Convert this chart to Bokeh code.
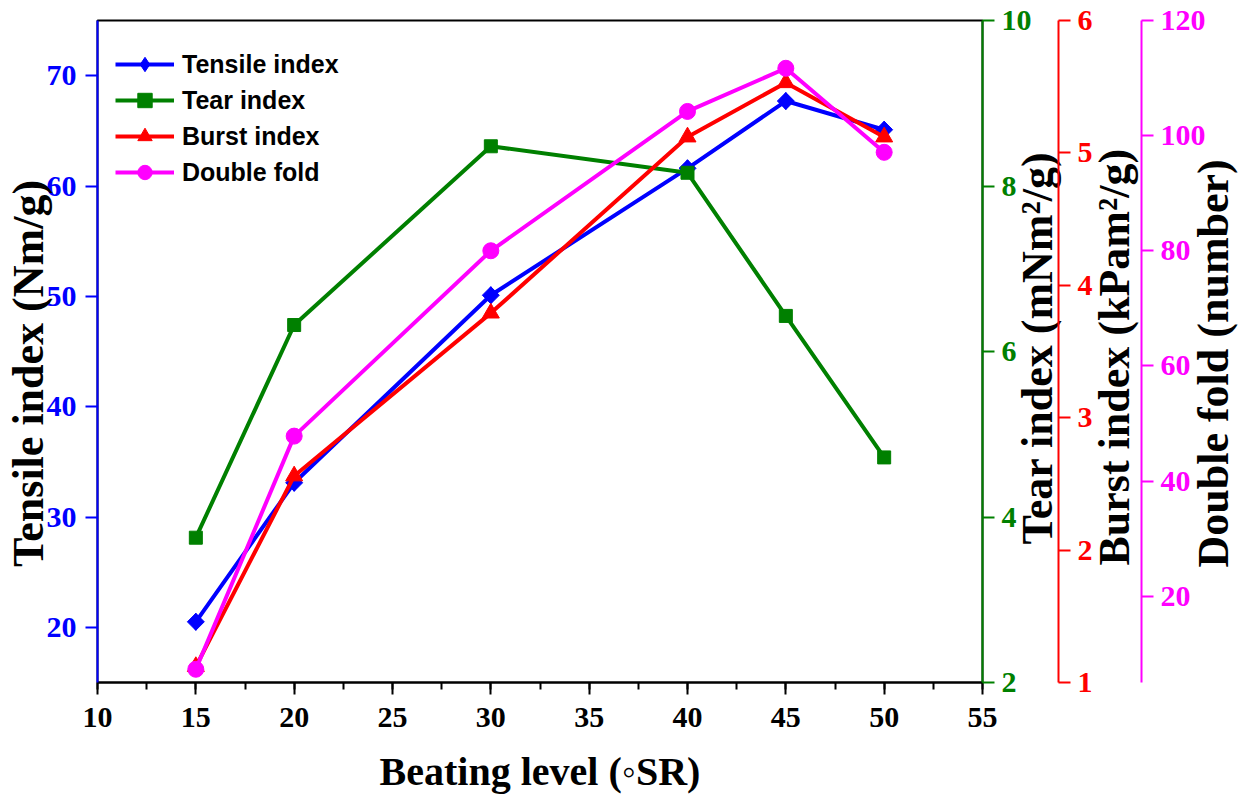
import math
from bokeh.plotting import figure
from bokeh.models import (LinearAxis, Range1d, Legend, LegendItem,
                          SingleIntervalTicker, FixedTicker, CustomJSTickFormatter)
from bokeh.embed import file_html
from bokeh.resources import INLINE

# ---- data ----
beating = [15, 20, 30, 40, 45, 50]
tensile = [20.5, 33.1, 50.1, 61.6, 67.7, 65.1]
tear = [3.75, 6.32, 8.48, 8.16, 6.43, 4.72]
burst = [1.12, 2.56, 3.79, 5.12, 5.53, 5.12]
double_fold = [7.3, 47.8, 80.0, 104.2, 111.7, 97.1]

series_names = ["Tensile index", "Tear index", "Burst index", "Double fold"]
x_label = "Beating level (\u25e6SR)"
y_labels = ["Tensile index (Nm/g)", "Tear index (mNm\u00b2/g)",
            "Burst index (kPam\u00b2/g)", "Double fold (number)"]

BLUE, GREEN, RED, MAGENTA = "#0000FF", "#008000", "#FF0000", "#FF00FF"
SERIF = "Liberation Serif"
SANS = "Liberation Sans"
TICK_FS = "30px"
XLAB_FS = "40px"
YLAB_FS = "44px"
NBSP = "\u00a0"

p = figure(frame_width=885, frame_height=662,
           x_range=Range1d(10, 55), y_range=Range1d(15, 75),
           output_backend="svg", toolbar_location=None,
           min_border_left=97, min_border_top=20, min_border_right=0,
           min_border_bottom=0)
# "px": a pixel-like range (frame bottom = 0) used only to anchor the right titles
p.extra_y_ranges = {"tear": Range1d(2, 10), "burst": Range1d(1, 6),
                    "fold": Range1d(5, 120), "px": Range1d(0, 662)}

p.grid.visible = False
p.outline_line_color = "black"
p.outline_line_width = 2
p.background_fill_color = "white"
p.border_fill_color = "white"


def style_axis(ax, color, ticker, lbl_standoff):
    ax.ticker = ticker
    ax.axis_line_color = color
    ax.axis_line_width = 2
    ax.major_tick_line_color = color
    ax.major_tick_line_width = 2
    ax.minor_tick_line_color = color
    ax.minor_tick_line_width = 2
    ax.major_tick_out = 12
    ax.major_tick_in = 0
    ax.minor_tick_in = 0
    ax.minor_tick_out = 0
    ax.major_label_text_color = color
    ax.major_label_text_font = SERIF
    ax.major_label_text_font_style = "bold"
    ax.major_label_text_font_size = TICK_FS
    ax.major_label_standoff = lbl_standoff


def set_title(ax, label, fs, standoff):
    ax.axis_label = label
    ax.axis_label_text_color = "black"
    ax.axis_label_text_font = SERIF
    ax.axis_label_text_font_style = "bold"
    ax.axis_label_text_font_size = fs
    ax.axis_label_standoff = standoff


# x axis
xax = p.xaxis[0]
style_axis(xax, "black", SingleIntervalTicker(interval=5, num_minor_ticks=2), 13)
xax.minor_tick_out = 7
set_title(xax, x_label, XLAB_FS, 19)

# left axis; trailing blanks move the centred title down a little
yax = p.yaxis[0]
style_axis(yax, BLUE, SingleIntervalTicker(interval=10, num_minor_ticks=0), 9)
set_title(yax, y_labels[0] + NBSP * 4, YLAB_FS, -9)


def title_axis(text, start_px, standoff, pad):
    """Rotated title (reads bottom-to-top) drawn as the single tick label of a bare axis."""
    ax = LinearAxis(y_range_name="px", ticker=FixedTicker(ticks=[start_px]),
                    formatter=CustomJSTickFormatter(args=dict(t=text), code="return t"))
    ax.major_label_orientation = math.pi / 2
    ax.axis_line_color = None
    ax.major_tick_line_color = None
    ax.minor_tick_line_color = None
    ax.major_tick_out = 0
    ax.major_tick_in = 0
    ax.minor_tick_out = 0
    ax.minor_tick_in = 0
    ax.major_label_standoff = standoff
    ax.major_label_text_font = SERIF
    ax.major_label_text_font_style = "bold"
    ax.major_label_text_font_size = YLAB_FS
    ax.major_label_text_color = "black"
    set_title(ax, NBSP, "1px", pad)
    return ax


ax_tear = LinearAxis(y_range_name="tear")
style_axis(ax_tear, GREEN, SingleIntervalTicker(interval=2, num_minor_ticks=0), 7)
p.add_layout(ax_tear, "right")
p.add_layout(title_axis(y_labels[1], 138, 3, -35), "right")

ax_burst = LinearAxis(y_range_name="burst")
style_axis(ax_burst, RED, SingleIntervalTicker(interval=1, num_minor_ticks=0), 7)
p.add_layout(ax_burst, "right")
p.add_layout(title_axis(y_labels[2], 117, 19, -29), "right")

ax_fold = LinearAxis(y_range_name="fold")
style_axis(ax_fold, MAGENTA, SingleIntervalTicker(interval=20, num_minor_ticks=0), 7)
p.add_layout(ax_fold, "right")
p.add_layout(title_axis(y_labels[3], 115, 5, -26), "right")

# series
items = []
specs = [
    (tensile, "default", BLUE, "square", 12, math.pi / 4),
    (tear, "tear", GREEN, "square", 13, 0.0),
    (burst, "burst", RED, "triangle", 17, 0.0),
    (double_fold, "fold", MAGENTA, "circle", 16, 0.0),
]
for name, (ys, rng, col, marker, size, ang) in zip(series_names, specs):
    ln = p.line(beating, ys, y_range_name=rng, line_color=col, line_width=4)
    sc = p.scatter(beating, ys, y_range_name=rng, marker=marker, size=size,
                   angle=ang, fill_color=col, line_color=col)
    rends = [ln, sc]
    if ang != 0.0:
        # a plain diamond inside the rotated square, so the legend shows a diamond too
        dm = p.scatter(beating, ys, y_range_name=rng, marker="diamond", size=17,
                       fill_color=col, line_color=col)
        rends = [ln, dm]
    items.append(LegendItem(label=name, renderers=rends))

legend = Legend(items=items, location=(18, 492))
legend.border_line_color = None
legend.background_fill_alpha = 0
legend.label_text_font = SANS
legend.label_text_font_style = "bold"
legend.label_text_font_size = "25px"
legend.label_text_color = "black"
legend.glyph_width = 59
legend.glyph_height = 36
legend.label_height = 36
legend.spacing = 0
legend.padding = 3
legend.margin = 0
legend.label_standoff = 8
p.add_layout(legend)

open("out.html", "w").write(file_html(p, INLINE))
